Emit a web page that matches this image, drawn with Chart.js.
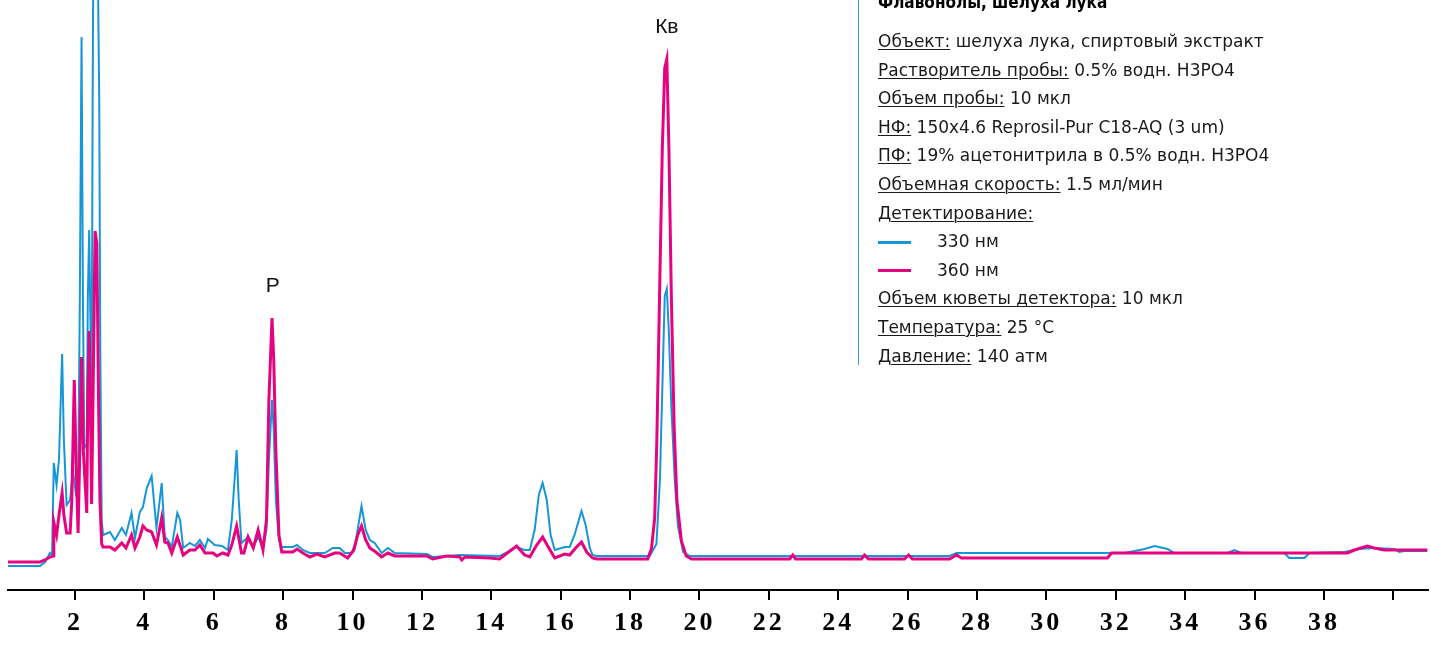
<!DOCTYPE html>
<html lang="ru">
<head>
<meta charset="utf-8">
<title>Флавонолы, шелуха лука</title>
<script src="https://cdn.jsdelivr.net/npm/chart.js@4.4.1/dist/chart.umd.min.js"></script>
<style>
  body { margin: 0; background: #fff; }
  #wrap { position: relative; width: 1431px; height: 652px; overflow: hidden; }
  #c { position: absolute; left: 0; top: 0; }
  #info {
    position: absolute; left: 858px; top: 0; height: 365px;
    border-left: 1.5px solid #2a9fd8; padding-left: 18px;
    font-family: "DejaVu Sans", sans-serif; font-size: 17px; color: #1a1a1a;
  }
  #info .title {
    position: absolute; left: 19px; top: -6px; white-space: nowrap;
    font-family: "DejaVu Sans Condensed", "DejaVu Sans", sans-serif;
    font-weight: bold; font-size: 17px; line-height: 17px; color: #000;
  }
  #info .rows { position: absolute; left: 19px; top: 27px; white-space: nowrap; line-height: 28.6px; }
  #info u { text-decoration-thickness: 1px; text-underline-offset: 2px; }
  .sw { display: inline-block; width: 33px; height: 3px; vertical-align: middle; margin-right: 26px; }
</style>
</head>
<body>
<div id="wrap">
  <canvas id="c" width="1431" height="652"></canvas>
  <div id="info">
    <div class="title">Флавонолы, шелуха лука</div>
    <div class="rows">
      <div><u>Объект:</u> шелуха лука, спиртовый экстракт</div>
      <div><u>Растворитель пробы:</u> 0.5% водн. H3PO4</div>
      <div><u>Объем пробы:</u> 10 мкл</div>
      <div><u>НФ:</u> 150x4.6 Reprosil-Pur C18-AQ (3 um)</div>
      <div><u>ПФ:</u> 19% ацетонитрила в 0.5% водн. H3PO4</div>
      <div><u>Объемная скорость:</u> 1.5 мл/мин</div>
      <div><u>Детектирование:</u></div>
      <div><span class="sw" id="sw330"></span>330 нм</div>
      <div><span class="sw" id="sw360"></span>360 нм</div>
      <div><u>Объем кюветы детектора:</u> 10 мкл</div>
      <div><u>Температура:</u> 25 °C</div>
      <div><u>Давление:</u> 140 атм</div>
    </div>
  </div>
</div>
<script>
// retention time, min / absorbance (arb. units)
const time330 = [0.07, 0.99, 1.14, 1.28, 1.34, 1.39, 1.47, 1.54, 1.63, 1.68, 1.76, 1.86, 1.94, 2.03, 2.09,
  2.14, 2.19, 2.23, 2.27, 2.34, 2.37, 2.41, 2.45, 2.48, 2.51, 2.53, 2.59, 2.66, 2.70, 2.73, 2.77, 2.81,
  3.01, 3.15, 3.35, 3.47, 3.63, 3.73, 3.87, 3.96, 4.07, 4.21, 4.35, 4.50, 4.59, 4.68, 4.79, 4.95, 5.03,
  5.12, 5.31, 5.46, 5.60, 5.75, 5.83, 6.03, 6.24, 6.41, 6.52, 6.66, 6.72, 6.80, 6.99, 7.14, 7.28, 7.42,
  7.52, 7.59, 7.68, 7.73, 7.79, 7.88, 7.96, 8.28, 8.40, 8.57, 8.77, 9.20, 9.43, 9.63, 9.78, 9.98, 10.10,
  10.26, 10.38, 10.50, 10.64, 10.84, 11.02, 11.22, 12.14, 12.31, 12.72, 13.09, 14.24, 14.48, 14.73, 14.96,
  15.11, 15.25, 15.37, 15.48, 15.60, 15.71, 15.83, 16.12, 16.26, 16.40, 16.60, 16.72, 16.84, 16.92, 17.04,
  18.57, 18.76, 18.86, 18.93, 19.00, 19.06, 19.12, 19.19, 19.29, 19.38, 19.53, 19.72, 22.31, 27.21, 27.41,
  32.25, 32.83, 33.12, 33.49, 33.69, 35.22, 35.42, 35.62, 36.86, 37.00, 37.44, 37.58, 38.59, 39.02, 39.45,
  40.03, 40.17, 40.32, 40.98];
const signal330 = [2.4, 2.4, 2.8, 3.7, 3.5, 12.7, 10.5, 13.1, 23.6, 15.0, 8.5, 9.0, 12.0, 9.5, 9.7,
  29.0, 55.3, 29.0, 14.2, 14.6, 29.0, 36.0, 26.0, 18.3, 49.0, 64.0, 71.0, 62.0, 49.0, 24.0, 7.0, 5.5,
  5.8, 5.0, 6.2, 5.5, 7.7, 5.2, 7.8, 8.3, 10.2, 11.4, 6.2, 10.7, 5.3, 5.0, 4.3, 7.7, 7.0,
  4.2, 4.7, 4.4, 5.0, 4.2, 5.1, 4.5, 4.4, 4.0, 7.0, 14.0, 9.0, 4.7, 5.3, 4.3, 5.3, 4.2,
  6.0, 13.0, 19.0, 16.0, 9.0, 5.0, 4.3, 4.3, 4.5, 4.0, 3.7, 3.7, 4.2, 4.2, 3.7, 3.7, 5.0,
  8.4, 6.0, 5.0, 4.7, 3.7, 4.2, 3.7, 3.6, 3.3, 3.4, 3.5, 3.4, 3.8, 4.3, 4.0,
  4.0, 6.0, 9.5, 10.7, 9.0, 5.5, 4.0, 4.3, 4.3, 5.5, 7.9, 6.5, 4.2, 3.5, 3.4,
  3.4, 4.6, 10.9, 20.1, 29.4, 30.1, 25.7, 18.3, 10.9, 6.4, 3.8, 3.4, 3.4, 3.4, 3.7,
  3.7, 4.1, 4.4, 4.1, 3.7, 3.7, 4.0, 3.7, 3.7, 3.2, 3.2, 3.7, 3.8, 4.1, 4.2,
  4.1, 3.8, 3.9, 3.9];

const time360 = [0.07, 0.99, 1.14, 1.28, 1.37, 1.39, 1.47, 1.54, 1.63, 1.68, 1.76, 1.86, 1.91, 1.98, 2.03,
  2.09, 2.14, 2.19, 2.24, 2.34, 2.37, 2.41, 2.45, 2.48, 2.52, 2.58, 2.63, 2.68, 2.72, 2.77, 2.81, 3.01,
  3.15, 3.35, 3.47, 3.63, 3.73, 3.87, 3.96, 4.07, 4.21, 4.35, 4.50, 4.59, 4.68, 4.79, 4.95, 5.12, 5.31,
  5.46, 5.60, 5.75, 5.98, 6.09, 6.26, 6.41, 6.52, 6.66, 6.80, 6.87, 6.99, 7.14, 7.28, 7.42, 7.52, 7.59,
  7.68, 7.73, 7.79, 7.88, 7.96, 8.28, 8.40, 8.57, 8.77, 8.97, 9.20, 9.49, 9.63, 9.86, 10.04, 10.15, 10.26,
  10.38, 10.50, 10.67, 10.84, 11.02, 11.22, 12.14, 12.31, 12.72, 13.09, 13.15, 13.24, 13.96, 14.24, 14.50,
  14.73, 14.96, 15.11, 15.31, 15.48, 15.66, 15.83, 16.12, 16.26, 16.43, 16.60, 16.75, 16.92, 17.04, 18.51,
  18.62, 18.71, 18.77, 18.85, 18.93, 19.00, 19.06, 19.12, 19.19, 19.27, 19.35, 19.48, 19.62, 19.77, 22.60,
  22.69, 22.77, 24.67, 24.76, 24.87, 25.91, 26.03, 26.14, 27.21, 27.41, 27.55, 31.76, 31.88, 38.68, 38.88,
  39.25, 39.45, 39.74, 40.98];
const signal360 = [2.8, 2.8, 3.0, 3.3, 3.4, 6.8, 5.5, 7.5, 9.7, 7.5, 5.7, 5.7, 9.0, 21.0, 13.0,
  5.7, 14.0, 23.3, 14.0, 7.7, 19.0, 25.9, 17.0, 8.6, 19.0, 35.9, 34.7, 19.0, 9.0, 4.6, 4.3, 4.3,
  4.0, 4.7, 4.2, 5.5, 4.2, 5.3, 6.4, 6.0, 5.8, 4.5, 7.2, 4.8, 4.7, 3.7, 5.3, 3.5, 4.0,
  4.0, 4.5, 3.7, 3.7, 3.4, 3.7, 3.5, 4.5, 6.4, 3.7, 3.7, 5.3, 4.2, 6.0, 4.0, 7.0, 19.0,
  27.2, 23.0, 14.0, 5.5, 3.8, 3.8, 4.1, 3.7, 3.3, 3.6, 3.3, 3.7, 3.7, 3.2, 4.0, 5.5, 6.4,
  5.0, 4.2, 3.8, 3.3, 3.7, 3.4, 3.4, 3.1, 3.4, 3.3, 3.0, 3.3, 3.2, 3.1, 3.8,
  4.4, 3.5, 3.3, 4.5, 5.3, 4.2, 3.2, 3.6, 3.5, 4.2, 4.8, 3.8, 3.2, 3.1, 3.1,
  4.2, 7.2, 14.6, 29.4, 44.2, 52.2, 53.1, 44.2, 29.4, 16.4, 9.0, 4.9, 3.4, 3.1, 3.1,
  3.5, 3.1, 3.1, 3.5, 3.1, 3.1, 3.5, 3.1, 3.1, 3.5, 3.2, 3.2, 3.7, 3.7, 4.0,
  4.4, 4.2, 4.0, 4.0];

const seriesNames = ['330 нм', '360 нм'];
const xTicks = [2, 4, 6, 8, 10, 12, 14, 16, 18, 20, 22, 24, 26, 28, 30, 32, 34, 36, 38];
const peakNames = ['Р', 'Кв'];
const peakTimes = [7.70, 19.06];

const blue = '#1796d6';
const pink = '#e6037f';
document.getElementById('sw330').style.background = blue;
document.getElementById('sw360').style.background = pink;

function pts(t, v) {
  return t.map((x, i) => ({ x: x, y: v[i] }));
}

// spaced-out serif tick digits, like the original print
const tickSpacing = {
  id: 'tickSpacing',
  beforeDraw(chart) { chart.ctx.letterSpacing = '3px'; },
  beforeDatasetsDraw(chart) { chart.ctx.letterSpacing = '0px'; }
};

// peak names above the 360 nm maxima
const peakLabels = {
  id: 'peakLabels',
  afterDatasetsDraw(chart) {
    const ctx = chart.ctx;
    const xs = chart.scales.x, ys = chart.scales.y;
    ctx.save();
    ctx.font = '21px "Liberation Sans", Arial, sans-serif';
    ctx.fillStyle = '#111';
    ctx.textAlign = 'center';
    ctx.textBaseline = 'middle';
    peakNames.forEach((name, k) => {
      let top = 0;
      time360.forEach((t, i) => {
        if (Math.abs(t - peakTimes[k]) < 0.2 && signal360[i] > top) top = signal360[i];
      });
      ctx.fillText(name, xs.getPixelForValue(peakTimes[k]), ys.getPixelForValue(top) - 32);
    });
    ctx.restore();
  }
};

new Chart(document.getElementById('c'), {
  type: 'line',
  data: {
    datasets: [
      {
        label: seriesNames[1],
        data: pts(time360, signal360),
        borderColor: pink,
        borderWidth: 3,
        pointRadius: 0,
        tension: 0,
        fill: false
      },
      {
        label: seriesNames[0],
        data: pts(time330, signal330),
        borderColor: blue,
        borderWidth: 2,
        pointRadius: 0,
        tension: 0,
        fill: false
      }
    ]
  },
  options: {
    responsive: false,
    animation: false,
    devicePixelRatio: 1,
    layout: { padding: { left: 8, right: 3, top: 0, bottom: 0 } },
    plugins: { legend: { display: false }, tooltip: { enabled: false } },
    scales: {
      x: {
        type: 'linear',
        min: 0.07,
        max: 41,
        afterFit(scale) { scale.height = 62; },
        border: { display: true, color: '#000', width: 2 },
        grid: { display: true, drawOnChartArea: false, drawTicks: true, tickLength: 10, color: '#000', lineWidth: 2 },
        ticks: {
          stepSize: 2,
          includeBounds: false,
          autoSkip: false,
          maxRotation: 0,
          padding: 8,
          color: '#000',
          font: { family: '"Liberation Serif", "Times New Roman", serif', weight: 'bold', size: 26 },
          callback: v => xTicks.includes(v) ? String(v) : ''
        }
      },
      y: { display: false, min: 0, max: 59 }
    }
  },
  plugins: [tickSpacing, peakLabels]
});
</script>
</body>
</html>
